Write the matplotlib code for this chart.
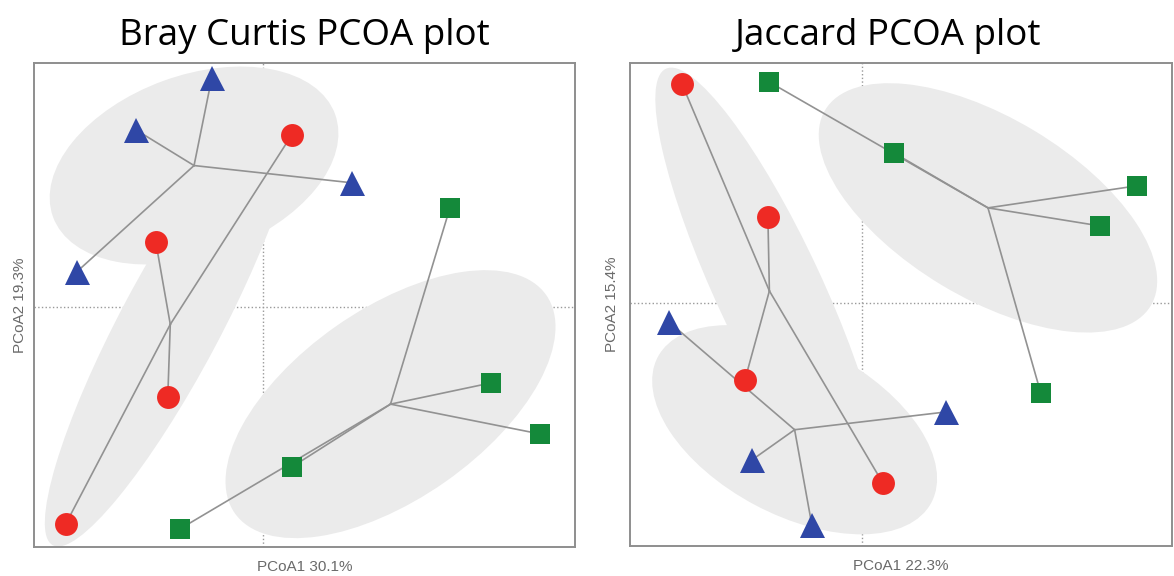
import numpy as np
import matplotlib.pyplot as plt
from matplotlib.patches import Ellipse

# Bray Curtis ordination scores (arbitrary PCoA units)
bc_red_x = [0.29, -1.07, -0.95, -1.97]
bc_red_y = [1.72, 0.65, -0.90, -2.17]
bc_blue_x = [-0.51, -1.27, 0.89, -1.86]
bc_blue_y = [2.29, 1.77, 1.24, 0.35]
bc_green_x = [1.87, 2.28, 2.77, 0.29, -0.83]
bc_green_y = [0.99, -0.76, -1.27, -1.60, -2.22]

# Jaccard ordination scores
jc_red_x = [-1.80, -0.94, -1.17, 0.21]
jc_red_y = [2.19, 0.86, -0.77, -1.80]
jc_blue_x = [-1.93, 0.84, -1.10, -0.50]
jc_blue_y = [-0.19, -1.09, -1.57, -2.22]
jc_green_x = [-0.93, 0.32, 2.75, 2.38, 1.79]
jc_green_y = [2.21, 1.50, 1.17, 0.77, -0.90]

# group ellipses: (width, height, angle)
bc_ellipses = {"red": (5.0, 1.0, 62), "blue": (3.0, 1.8, 20), "green": (3.8, 1.9, 35)}
jc_ellipses = {"red": (4.9, 1.06, -65), "blue": (3.1, 1.7, -28), "green": (3.8, 1.8, -31)}

titles = ["Bray Curtis PCOA plot", "Jaccard PCOA plot"]
xlabels = ["PCoA1 30.1%", "PCoA1 22.3%"]
ylabels = ["PCoA2 19.3%", "PCoA2 15.4%"]

colors = {"red": "#ee2a24", "blue": "#2f47a6", "green": "#14893a"}
markers = {"red": ("o", 16.5), "blue": ("^", 18), "green": ("s", 14.5)}


def draw_panel(ax, groups, ellipses, xlim, ylim):
    ax.set_xlim(xlim)
    ax.set_ylim(ylim)
    ax.axhline(0, color="#999999", ls=":", lw=1, zorder=0)
    ax.axvline(0, color="#999999", ls=":", lw=1, zorder=0)

    # shaded ellipses
    for name, (xs, ys) in groups.items():
        cx, cy = np.mean(xs), np.mean(ys)
        w, h, ang = ellipses[name]
        ax.add_patch(Ellipse((cx, cy), w, h, angle=ang, facecolor="#ebebeb",
                             edgecolor="none", zorder=1))

    # spider lines from the group centroid
    for name, (xs, ys) in groups.items():
        cx, cy = np.mean(xs), np.mean(ys)
        for x, y in zip(xs, ys):
            ax.plot([cx, x], [cy, y], color="#929292", lw=1.2, zorder=2)

    for name, (xs, ys) in groups.items():
        m, ms = markers[name]
        ax.plot(xs, ys, ls="none", marker=m, ms=ms, color=colors[name],
                markeredgewidth=0, zorder=3)

    ax.set_xticks([])
    ax.set_yticks([])
    for s in ax.spines.values():
        s.set_color("#8e8e8e")
        s.set_linewidth(1.4)


fig = plt.figure(figsize=(11.74, 5.76), dpi=100)
ax1 = fig.add_axes([0.0287, 0.0503, 0.4611, 0.8408])
ax2 = fig.add_axes([0.5366, 0.052, 0.4614, 0.839])

draw_panel(ax1, {"red": (bc_red_x, bc_red_y), "blue": (bc_blue_x, bc_blue_y),
                 "green": (bc_green_x, bc_green_y)},
           bc_ellipses, (-2.29, 3.12), (-2.40, 2.44))
draw_panel(ax2, {"red": (jc_red_x, jc_red_y), "blue": (jc_blue_x, jc_blue_y),
                 "green": (jc_green_x, jc_green_y)},
           jc_ellipses, (-2.32, 3.10), (-2.43, 2.40))

ax1.set_title(titles[0], fontsize=26.5, family="Open Sans", pad=13)
ax2.set_title(titles[1], fontsize=26.5, family="Open Sans", pad=13, x=0.476)
for ax, xl, yl, yp in zip([ax1, ax2], xlabels, ylabels, [5, 8]):
    ax.set_xlabel(xl, fontsize=11, color="#6a6a6a", family="Liberation Sans", labelpad=9)
    ax.set_ylabel(yl, fontsize=11, color="#6a6a6a", family="Liberation Sans", labelpad=yp)

fig.savefig("out.png", dpi=100)
